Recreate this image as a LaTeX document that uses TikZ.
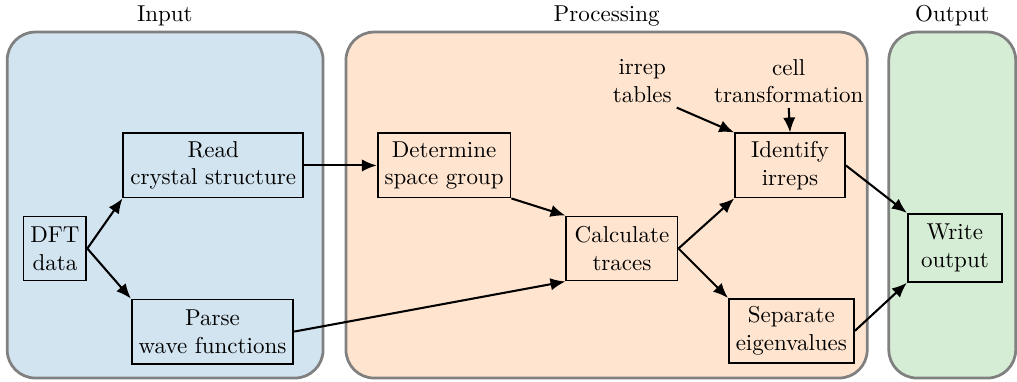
\documentclass[tikz,border=0pt]{standalone}
\usepackage{tikz}
\usetikzlibrary{arrows,arrows.meta}

\definecolor{inputbg}{RGB}{210,228,240}
\definecolor{procbg}{RGB}{255,229,207}
\definecolor{outputbg}{RGB}{213,236,213}

\begin{document}
\begin{tikzpicture}[
	panel/.style={draw=gray, line width=1.2pt, rounded corners=0.43cm},
	title/.style={anchor=south, inner sep=2.5pt},
	stage/.style={draw, line width=0.8pt, align=center, inner sep=3pt, minimum height=0.98cm},
	source/.style={align=center, inner sep=2pt}
]
\useasboundingbox (0,0) rectangle (15.55,5.83);

% background panels
\draw[panel, fill=inputbg]  (0.11,0.05) rectangle (4.94,5.34);
\draw[panel, fill=procbg]   (5.29,0.05) rectangle (13.26,5.34);
\draw[panel, fill=outputbg] (13.59,0.05) rectangle (15.53,5.34);
\node[title] (intitle)   at (2.52,5.34)  {Input};
\node[title] (proctitle) at (9.275,5.34) {Processing};
\node[title] (outtitle)  at (14.56,5.34) {Output};

% stages
\node[stage] (dft)       at (0.84,2.03)  {DFT\\data};
\node[stage] (read)      at (3.26,3.30)  {Read\\crystal structure};
\node[stage] (parse)     at (3.25,0.76)  {Parse\\wave functions};
\node[stage] (determine) at (6.79,3.30)  {Determine\\space group};
\node[stage, minimum width=1.70cm] (calc) at (9.51,2.03) {Calculate\\traces};
\node[stage, minimum width=1.68cm] (identify) at (12.08,3.30) {Identify\\irreps};
\node[stage] (separate)  at (12.10,0.77) {Separate\\eigenvalues};
\node[stage, minimum width=1.44cm, minimum height=1.04cm] (write) at (14.60,2.04) {Write\\output};
\node[source] (tables)   at (9.82,4.59)  {irrep\\tables};
\node[source] (cell)     at (12.06,4.59) {cell\\transformation};

\path[-{Latex[length=6.5pt,width=5.4pt]}, line width=0.9pt]
(dft.east) edge (read.south west)
(dft.east) edge (parse.north west)
(read.east) edge (determine.west)
(parse.east) edge (calc.south west)
(determine.south east) edge (calc.north west)
(calc.east) edge (identify.south west)
(calc.east) edge (separate.north west)
(tables.south east) edge (identify.north west)
(cell.south) edge (identify.north)
(identify.east) edge (write.north west)
(separate.east) edge (write.south west)
;
\end{tikzpicture}
\end{document}
